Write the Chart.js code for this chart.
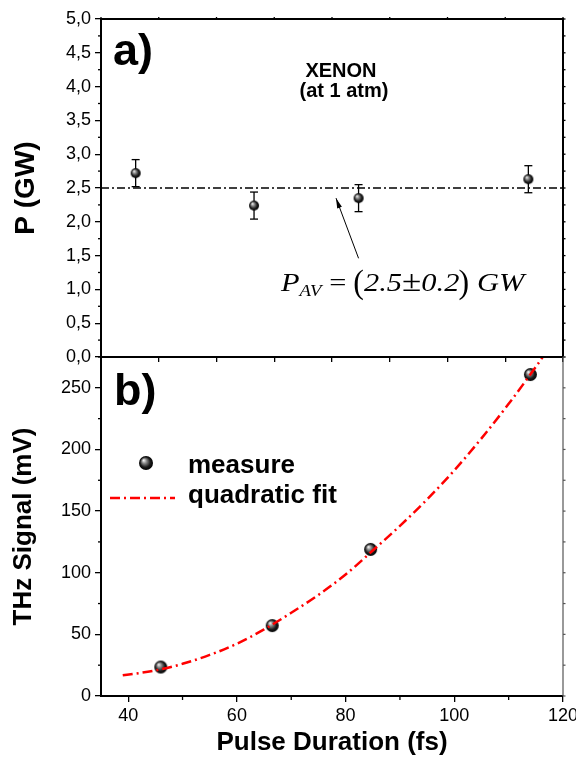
<!DOCTYPE html>
<html>
<head>
<meta charset="utf-8">
<script src="https://cdn.jsdelivr.net/npm/chart.js@4.4.1/dist/chart.umd.min.js"></script>
<style>
    body { margin: 0; background: #fff; }
    #wrap { position: relative; width: 576px; height: 758px; overflow: hidden; }
    canvas { position: absolute; left: 0; }
    .lbl { position: absolute; font-family: 'Liberation Sans', Arial, sans-serif; font-weight: bold; line-height: 1; white-space: nowrap; color: #000; }
    #formula { position: absolute; left: 281px; top: 266px; font-family: 'Liberation Serif', 'Times New Roman', serif; font-size: 26px; line-height: 1; white-space: nowrap; transform: scaleX(1.17); transform-origin: left center; }
    #formula .it { font-style: italic; }
    #formula .sub { font-size: 16px; position: relative; top: 5px; font-style: italic; }
    #formula .par { display: inline-block; transform: scale(1.05, 1.3); }
    #formula .pm { font-size: 30px; }
</style>
</head>
<body>
<div id="wrap">
    <canvas id="powerChart" width="576" height="372" style="top:0"></canvas>
    <canvas id="thzChart" width="576" height="408" style="top:350px"></canvas>
    <div class="lbl" style="left:113px; top:27px; font-size:45px;">a)</div>
    <div class="lbl" style="left:114px; top:367px; font-size:45px;">b)</div>
    <div class="lbl" style="left:291px; width:100px; text-align:center; top:60px; font-size:20px;">XENON</div>
    <div class="lbl" style="left:294px; width:100px; text-align:center; top:80px; font-size:20px;">(at 1 atm)</div>
    <div class="lbl" style="left:188px; top:451px; font-size:26px;">measure</div>
    <div class="lbl" style="left:188px; top:481px; font-size:26px;">quadratic fit</div>
    <div id="formula"><span class="it">P</span><span class="sub">AV</span> = <span class="par">(</span><span class="it">2.5</span><span class="pm">±</span><span class="it">0.2</span><span class="par">)</span> <span class="it">GW</span></div>
</div>
<script>
// pulse durations (fs) of the four measurements
const pulseDuration = [46.0, 66.5, 84.6, 114.0];
// a) peak power in GW with error bars
const peakPower = [2.72, 2.24, 2.35, 2.63];
const peakPowerErr = [0.2, 0.2, 0.2, 0.2];
const averagePower = 2.5;
// b) THz signal in mV
const thzSignal = [23.5, 57.1, 118.9, 260.8];
// quadratic fit curve
const fitDuration = [39, 45, 50, 55, 60, 65, 70, 75, 80, 85, 90, 95, 100, 105, 110, 115, 117];
const fitSignal = [16.8, 20.7, 26.1, 33.3, 42.4, 54.0, 67.5, 82.0, 98.5, 118.0, 138.0, 159.5, 183.0, 209.0, 237.0, 267.0, 279.5];

// ticks
const powerTicks = [0, 0.5, 1, 1.5, 2, 2.5, 3, 3.5, 4, 4.5, 5];
const powerTickLabels = ['0,0', '0,5', '1,0', '1,5', '2,0', '2,5', '3,0', '3,5', '4,0', '4,5', '5,0'];
const powerMinorTicks = [0.25, 0.75, 1.25, 1.75, 2.25, 2.75, 3.25, 3.75, 4.25, 4.75];
const topDurationTicks = [40, 50, 60, 70, 80, 90, 100, 110, 120];
const durationTicks = [40, 60, 80, 100, 120];
const durationMinorTicks = [50, 70, 90, 110];
const signalTicks = [0, 50, 100, 150, 200, 250];
const signalMinorTicks = [25, 75, 125, 175, 225, 275];

// arrow of the P_AV note (data coords of panel a)
const arrowTail = { x: 84.6, y: 1.46 };
const arrowHead = { x: 80.7, y: 2.35 };

Chart.defaults.font.family = "'Liberation Sans', Arial, sans-serif";
Chart.defaults.color = '#000';

function makeBall(r) {
    const s = Math.ceil(r * 2 + 2);
    const c = document.createElement('canvas');
    c.width = s; c.height = s;
    const g = c.getContext('2d');
    const cx = s / 2;
    const grad = g.createRadialGradient(cx - r * 0.35, cx - r * 0.4, r * 0.05, cx, cx, r);
    grad.addColorStop(0, '#f2f2f2');
    grad.addColorStop(0.3, '#8c8c8c');
    grad.addColorStop(0.7, '#1c1c1c');
    grad.addColorStop(1, '#000');
    g.fillStyle = grad;
    g.beginPath();
    g.arc(cx, cx, r, 0, Math.PI * 2);
    g.fill();
    return c;
}

const smallBall = makeBall(5);
const bigBall = makeBall(6.5);
const legendBall = makeBall(7);

function tickLine(ctx, x1, y1, x2, y2) {
    ctx.beginPath();
    ctx.moveTo(x1, y1);
    ctx.lineTo(x2, y2);
    ctx.stroke();
}

const powerExtras = {
    id: 'powerExtras',
    beforeDatasetsDraw(chart) {
        const { ctx, scales: { x, y } } = chart;
        ctx.save();
        ctx.strokeStyle = '#000';
        ctx.lineWidth = 1.3;
        pulseDuration.forEach((d, i) => {
            const px = x.getPixelForValue(d);
            const top = y.getPixelForValue(peakPower[i] + peakPowerErr[i]);
            const bot = y.getPixelForValue(peakPower[i] - peakPowerErr[i]);
            tickLine(ctx, px, top, px, bot);
            tickLine(ctx, px - 4, top, px + 4, top);
            tickLine(ctx, px - 4, bot, px + 4, bot);
        });
        ctx.restore();
    },
    afterDraw(chart) {
        const { ctx, chartArea: { left, right, top, bottom }, scales: { x, y } } = chart;
        ctx.save();
        ctx.strokeStyle = '#000';
        ctx.lineWidth = 2;
        tickLine(ctx, left - 1, top, right + 1, top);
        tickLine(ctx, right, top, right, bottom);
        ctx.lineWidth = 1.3;
        powerMinorTicks.forEach(v => {
            const py = y.getPixelForValue(v);
            tickLine(ctx, left - 3, py, left, py);
        });
        powerTicks.concat(powerMinorTicks).forEach(v => {
            const py = y.getPixelForValue(v);
            tickLine(ctx, right, py, right + 2.5, py);
        });
        topDurationTicks.forEach(v => {
            const px = x.getPixelForValue(v);
            tickLine(ctx, px, top, px, top - 2);
        });
        // arrow
        const tx = x.getPixelForValue(arrowTail.x), ty = y.getPixelForValue(arrowTail.y);
        const hx = x.getPixelForValue(arrowHead.x), hy = y.getPixelForValue(arrowHead.y);
        ctx.lineWidth = 1;
        tickLine(ctx, tx, ty, hx, hy);
        const ang = Math.atan2(hy - ty, hx - tx);
        ctx.fillStyle = '#000';
        ctx.beginPath();
        ctx.moveTo(hx, hy);
        ctx.lineTo(hx - 10 * Math.cos(ang) + 2.5 * Math.sin(ang), hy - 10 * Math.sin(ang) - 2.5 * Math.cos(ang));
        ctx.lineTo(hx - 10 * Math.cos(ang) - 2.5 * Math.sin(ang), hy - 10 * Math.sin(ang) + 2.5 * Math.cos(ang));
        ctx.closePath();
        ctx.fill();
        ctx.restore();
    }
};

const thzExtras = {
    id: 'thzExtras',
    afterDraw(chart) {
        const { ctx, chartArea: { left, right, top, bottom }, scales: { x, y } } = chart;
        ctx.save();
        ctx.strokeStyle = '#000';
        ctx.lineWidth = 2;
        tickLine(ctx, left - 1, top, right + 1, top);
        ctx.strokeStyle = '#555';
        ctx.lineWidth = 1.2;
        tickLine(ctx, right, top, right, bottom);
        signalTicks.concat(signalMinorTicks).forEach(v => {
            const py = y.getPixelForValue(v);
            tickLine(ctx, right, py, right + 2.5, py);
        });
        ctx.strokeStyle = '#000';
        ctx.lineWidth = 1.3;
        signalMinorTicks.forEach(v => {
            const py = y.getPixelForValue(v);
            tickLine(ctx, left - 3, py, left, py);
        });
        durationMinorTicks.forEach(v => {
            const px = x.getPixelForValue(v);
            tickLine(ctx, px, bottom, px, bottom + 4);
        });
        // legend symbols
        ctx.drawImage(legendBall, left + 45 - legendBall.width / 2, top + 106 - legendBall.height / 2);
        ctx.strokeStyle = '#ff0000';
        ctx.lineWidth = 2.5;
        ctx.setLineDash([10, 4, 2, 4]);
        tickLine(ctx, left + 9, top + 141, left + 74, top + 141);
        ctx.restore();
    }
};

function fixedAxis(size, horizontal) {
    return function(scale) {
        if (horizontal) scale.height = size; else scale.width = size;
        scale.paddingLeft = 0; scale.paddingRight = 0;
        scale.paddingTop = 0; scale.paddingBottom = 0;
    };
}

const tickFont = { size: 18 };

new Chart(document.getElementById('powerChart'), {
    type: 'scatter',
    data: {
        datasets: [
            {
                label: 'P',
                data: pulseDuration.map((d, i) => ({ x: d, y: peakPower[i] })),
                pointStyle: smallBall,
            },
            {
                label: 'P_AV',
                data: [{ x: 40, y: averagePower }, { x: 120, y: averagePower }],
                showLine: true,
                borderColor: '#000',
                borderWidth: 1.5,
                borderDash: [8, 3, 2, 3],
                pointRadius: 0,
            }
        ]
    },
    options: {
        responsive: false,
        animation: false,
        layout: { padding: { top: 19, right: 13, left: 0, bottom: 0 }, autoPadding: false },
        plugins: { legend: { display: false }, tooltip: { enabled: false } },
        scales: {
            x: {
                type: 'linear', min: 40, max: 120,
                afterBuildTicks: s => { s.ticks = topDurationTicks.map(v => ({ value: v })); },
                afterFit: fixedAxis(15, true),
                ticks: { display: false },
                grid: { drawOnChartArea: false, tickLength: 5, color: '#000', lineWidth: 1.3 },
                border: { color: '#000', width: 2 }
            },
            y: {
                min: 0, max: 5,
                afterBuildTicks: s => { s.ticks = powerTicks.map(v => ({ value: v })); },
                afterFit: fixedAxis(101, false),
                ticks: { font: tickFont, padding: 4, autoSkip: false, callback: (v, i) => powerTickLabels[i] },
                grid: { drawOnChartArea: false, tickLength: 6, color: '#000', lineWidth: 1.3 },
                border: { color: '#000', width: 2 },
                title: { display: true, text: 'P (GW)', font: { size: 28, weight: 'bold' }, padding: { top: 9, bottom: 0 } }
            }
        }
    },
    plugins: [powerExtras]
});

new Chart(document.getElementById('thzChart'), {
    type: 'scatter',
    data: {
        datasets: [
            {
                label: 'quadratic fit',
                data: fitDuration.map((d, i) => ({ x: d, y: fitSignal[i] })),
                showLine: true,
                borderColor: '#ff0000',
                borderWidth: 2.5,
                borderDash: [10, 4, 2, 4],
                cubicInterpolationMode: 'monotone',
                pointRadius: 0,
            },
            {
                label: 'measure',
                data: pulseDuration.map((d, i) => ({ x: d, y: thzSignal[i] })),
                pointStyle: bigBall,
            }
        ]
    },
    options: {
        responsive: false,
        animation: false,
        layout: { padding: { top: 7, right: 13, left: 0, bottom: 0 }, autoPadding: false },
        plugins: { legend: { display: false }, tooltip: { enabled: false } },
        scales: {
            x: {
                type: 'linear', min: 35, max: 120,
                afterBuildTicks: s => { s.ticks = durationTicks.map(v => ({ value: v })); },
                afterFit: fixedAxis(62, true),
                ticks: { font: tickFont, padding: 3, autoSkip: false, maxRotation: 0 },
                grid: { drawOnChartArea: false, tickLength: 6, color: '#000', lineWidth: 1.3 },
                border: { color: '#000', width: 2 },
                title: { display: true, text: 'Pulse Duration (fs)', font: { size: 26, weight: 'bold' }, padding: { top: 0, bottom: 0 } }
            },
            y: {
                min: 0, max: 275,
                afterBuildTicks: s => { s.ticks = signalTicks.map(v => ({ value: v })); },
                afterFit: fixedAxis(101, false),
                ticks: { font: tickFont, padding: 4, autoSkip: false },
                grid: { drawOnChartArea: false, tickLength: 6, color: '#000', lineWidth: 1.3 },
                border: { color: '#000', width: 2 },
                title: { display: true, text: 'THz Signal (mV)', font: { size: 26, weight: 'bold' }, padding: { top: 8, bottom: 0 } }
            }
        }
    },
    plugins: [thzExtras]
});
</script>
</body>
</html>
